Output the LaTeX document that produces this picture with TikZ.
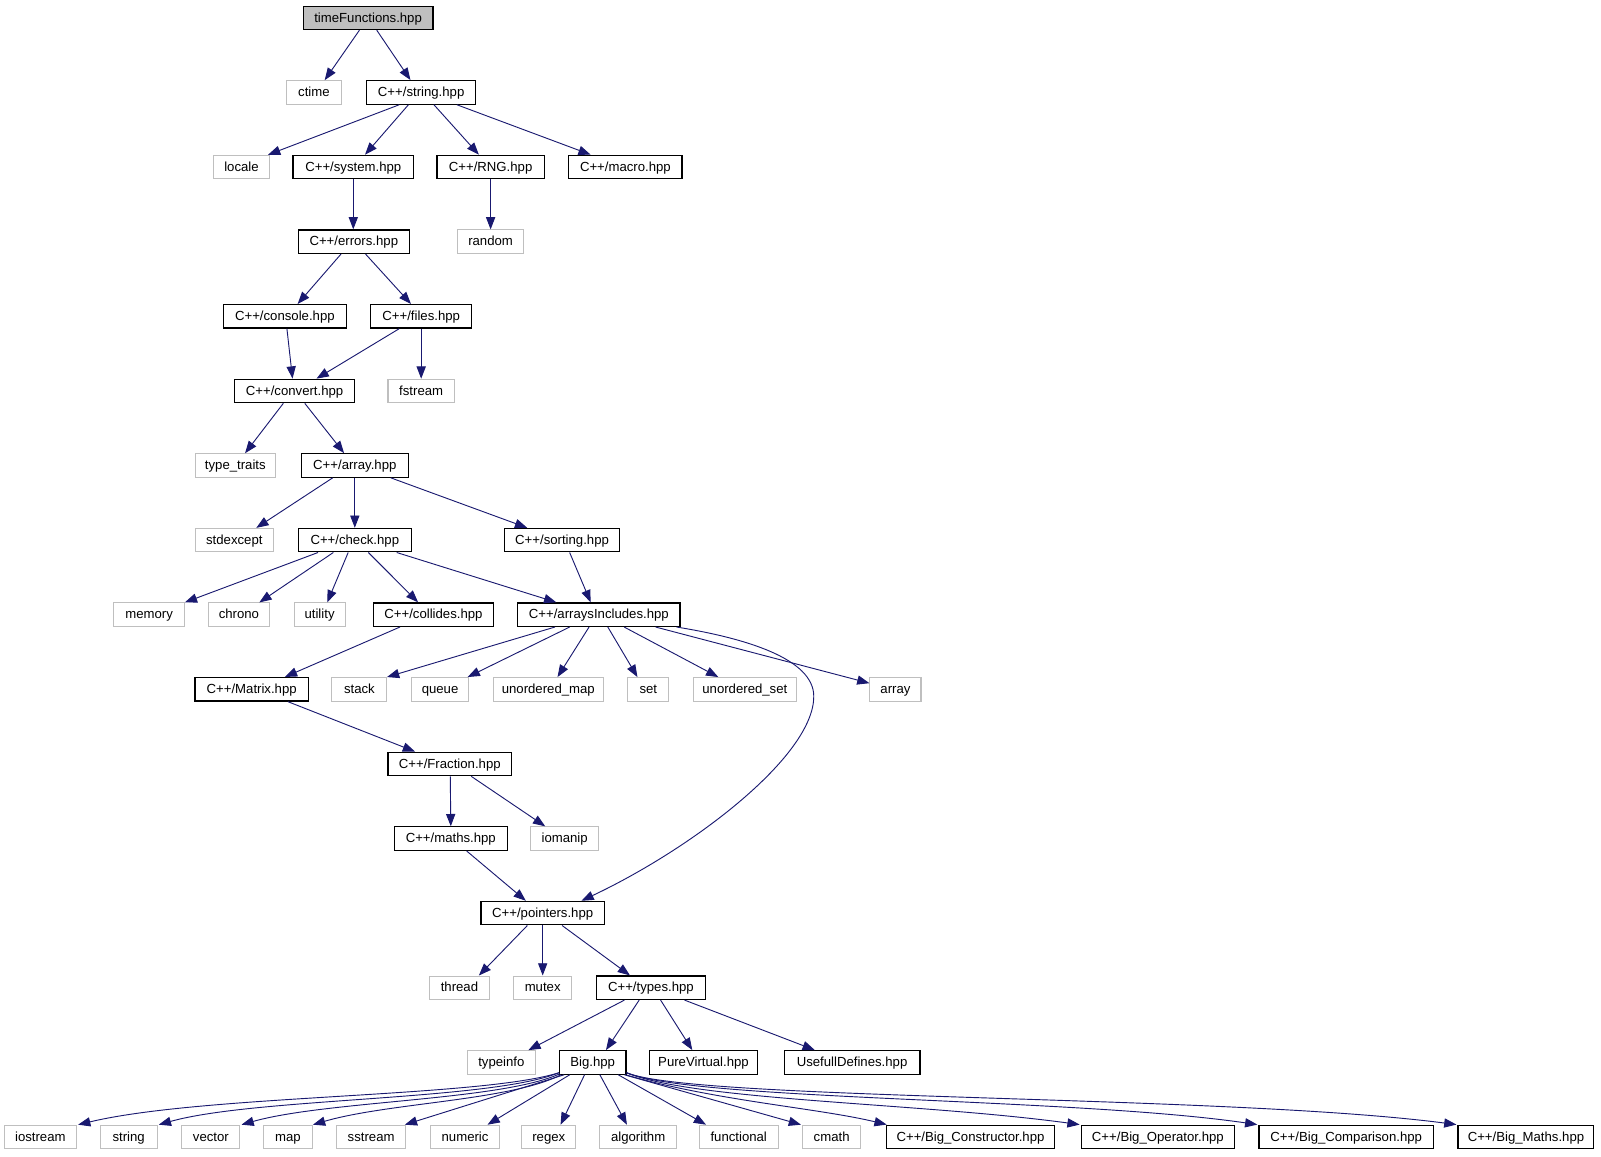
\documentclass[tikz,border=0pt]{standalone}
\usepackage{fontspec}
\setmainfont{Liberation Sans}
\usetikzlibrary{arrows.meta}
\definecolor{edgec}{HTML}{191970}
\definecolor{sysgray}{HTML}{BFBFBF}
\definecolor{rootfill}{HTML}{BFBFBF}
\newcommand\myedge[4]{\draw[edge] ([xshift=#2pt]#1.south) -- ([xshift=#4pt]#3.north);}
\begin{document}
\begin{tikzpicture}[x=1pt,y=-1pt,
  box/.style={inner sep=0pt, minimum height=23pt, text height=10.6pt, text depth=2.5pt, font=\fontsize{12.9}{14}\selectfont, fill=white},
  proj/.style={box, draw=black, line width=1.2pt},
  sys/.style={box, draw=sysgray, line width=1pt},
  root/.style={proj, fill=rootfill},
  edge/.style={draw=edgec, line width=0.9pt, -{Triangle[length=12pt,width=9pt]}}
]
\fill[white] (0,0) rectangle (1568,1133);
\useasboundingbox (0,0) rectangle (1568,1133);
% row 1
\node[root, minimum width=127pt] (tf) at (360.5,17.5) {timeFunctions.hpp};
% row 2
\node[sys, minimum width=53pt] (ctime) at (307.5,90.5) {ctime};
\node[proj, minimum width=107pt] (strh) at (412.5,90.5) {C++/string.hpp};
% row 3
\node[sys, minimum width=55pt] (locale) at (236.5,163.6) {locale};
\node[proj, minimum width=118pt] (sysh) at (346,163.6) {C++/system.hpp};
\node[proj, minimum width=105pt] (rng) at (480.5,163.6) {C++/RNG.hpp};
\node[proj, minimum width=111pt] (macro) at (612.5,163.6) {C++/macro.hpp};
% row 4
\node[proj, minimum width=109pt] (errors) at (346.5,236.7) {C++/errors.hpp};
\node[sys, minimum width=65pt] (random) at (480.5,236.7) {random};
% row 5
\node[proj, minimum width=120pt] (console) at (279,309.8) {C++/console.hpp};
\node[proj, minimum width=99pt] (files) at (412.5,309.8) {C++/files.hpp};
% row 6
\node[proj, minimum width=117pt] (convert) at (288.5,382.9) {C++/convert.hpp};
\node[sys, minimum width=65pt] (fstream) at (412.5,382.9) {fstream};
% row 7
\node[sys, minimum width=79pt] (tt) at (230.5,455.9) {type\_traits};
\node[proj, minimum width=105pt] (arrayh) at (347.5,455.9) {C++/array.hpp};
% row 8
\node[sys, minimum width=77pt] (stdexcept) at (229.5,529) {stdexcept};
\node[proj, minimum width=111pt] (check) at (347.5,529) {C++/check.hpp};
\node[proj, minimum width=113pt] (sorting) at (550.5,529) {C++/sorting.hpp};
% row 9
\node[sys, minimum width=70pt] (memory) at (146,602) {memory};
\node[sys, minimum width=60pt] (chrono) at (234,602) {chrono};
\node[sys, minimum width=50pt] (utility) at (313,602) {utility};
\node[proj, minimum width=117pt] (collides) at (424.5,602) {C++/collides.hpp};
\node[proj, minimum width=159pt] (ai) at (586.5,602) {C++/arraysIncludes.hpp};
% row 10
\node[proj, minimum width=111pt] (matrix) at (246.5,675.1) {C++/Matrix.hpp};
\node[sys, minimum width=54pt] (stack) at (352,675.1) {stack};
\node[sys, minimum width=56pt] (queue) at (431,675.1) {queue};
\node[sys, minimum width=108pt] (umap) at (537,675.1) {unordered\_map};
\node[sys, minimum width=40pt] (set) at (635,675.1) {set};
\node[sys, minimum width=101pt] (uset) at (729.5,675.1) {unordered\_set};
\node[sys, minimum width=50pt] (arr) at (877,675.1) {array};
% row 11
\node[proj, minimum width=121pt] (fraction) at (440.5,748.2) {C++/Fraction.hpp};
% row 12
\node[proj, minimum width=111pt] (maths) at (441.5,821.3) {C++/maths.hpp};
\node[sys, minimum width=66pt] (iomanip) at (553,821.3) {iomanip};
% row 13
\node[proj, minimum width=121pt] (ptr) at (531.5,894.3) {C++/pointers.hpp};
% row 14
\node[sys, minimum width=58pt] (thread) at (450,967.4) {thread};
\node[sys, minimum width=57pt] (mutex) at (531.5,967.4) {mutex};
\node[proj, minimum width=107pt] (types) at (637.5,967.4) {C++/types.hpp};
% row 15
\node[sys, minimum width=66pt] (typeinfo) at (491,1040.5) {typeinfo};
\node[proj, minimum width=65pt] (big) at (580.5,1040.5) {Big.hpp};
\node[proj, minimum width=106pt] (pv) at (689,1040.5) {PureVirtual.hpp};
\node[proj, minimum width=133pt] (ud) at (834.5,1040.5) {UsefullDefines.hpp};
% row 16
\node[sys, minimum width=71pt] (ios) at (39.5,1113.5) {iostream};
\node[sys, minimum width=56pt] (stdstr) at (126,1113.5) {string};
\node[sys, minimum width=57pt] (vector) at (206.5,1113.5) {vector};
\node[sys, minimum width=48pt] (map) at (282,1113.5) {map};
\node[sys, minimum width=67pt] (sstream) at (363.5,1113.5) {sstream};
\node[sys, minimum width=67pt] (numeric) at (455.5,1113.5) {numeric};
\node[sys, minimum width=53pt] (regex) at (537.5,1113.5) {regex};
\node[sys, minimum width=76pt] (algo) at (625,1113.5) {algorithm};
\node[sys, minimum width=77pt] (func) at (723.5,1113.5) {functional};
\node[sys, minimum width=57pt] (cmath) at (814.5,1113.5) {cmath};
\node[proj, minimum width=165pt] (bcons) at (950.5,1113.5) {C++/Big\_Constructor.hpp};
\node[proj, minimum width=150pt] (bop) at (1134,1113.5) {C++/Big\_Operator.hpp};
\node[proj, minimum width=171pt] (bcomp) at (1318.5,1113.5) {C++/Big\_Comparison.hpp};
\node[proj, minimum width=133pt] (bmaths) at (1494.5,1113.5) {C++/Big\_Maths.hpp};
% edges
\myedge{tf}{-8.5}{ctime}{10.5}
\myedge{tf}{8.5}{strh}{-10.5}
\myedge{strh}{-21.5}{locale}{26}
\myedge{strh}{-12.5}{sysh}{11.5}
\myedge{strh}{12.5}{rng}{-11.5}
\myedge{strh}{35}{macro}{-34}
\myedge{sysh}{0}{errors}{-0.5}
\myedge{rng}{0}{random}{0}
\myedge{errors}{-12.5}{console}{12.5}
\myedge{errors}{11.5}{files}{-10}
\myedge{console}{2}{convert}{-2}
\myedge{files}{-21.5}{convert}{21.5}
\myedge{files}{0}{fstream}{0}
\myedge{convert}{-11}{tt}{9.5}
\myedge{convert}{10}{arrayh}{-10.5}
\myedge{arrayh}{-21.7}{stdexcept}{21.5}
\myedge{arrayh}{0}{check}{0}
\myedge{arrayh}{35.3}{sorting}{-34.2}
\myedge{check}{-36}{memory}{35}
\myedge{check}{-21}{chrono}{20}
\myedge{check}{-6.5}{utility}{7.5}
\myedge{check}{13.3}{collides}{-15}
\myedge{check}{41}{ai}{-41.7}
\myedge{sorting}{7.4}{ai}{-8}
\myedge{collides}{-32.8}{matrix}{32.5}
\myedge{ai}{-43}{stack}{27}
\myedge{ai}{-28.6}{queue}{27}
\myedge{ai}{-9.6}{umap}{9}
\myedge{ai}{8.8}{set}{-10.7}
\myedge{ai}{24.8}{uset}{-26}
\draw[edge] ([xshift=55.6pt]ai.south) -- ([yshift=-6pt]arr.north west);
\draw[edge] ([xshift=-4pt]ai.south east) .. controls (730,625) and (797,645) .. (797,682)
  .. controls (797,740) and (680,830) .. ([xshift=38pt]ptr.north);
\myedge{matrix}{35.5}{fraction}{-34}
\myedge{fraction}{0.5}{maths}{0}
\myedge{fraction}{21}{iomanip}{-19}
\myedge{maths}{15.5}{ptr}{-16.5}
\myedge{ptr}{-15}{thread}{19}
\myedge{ptr}{0}{mutex}{0}
\myedge{ptr}{19}{types}{-20.5}
\myedge{types}{-26}{typeinfo}{26.5}
\myedge{types}{-11.5}{big}{13}
\myedge{types}{9.5}{pv}{-11}
\myedge{types}{33}{ud}{-36.5}
% Big fan-out
\draw[edge] ([yshift=2pt]big.south west) .. controls (470,1075) and (200,1072) .. ([xshift=1pt]ios.north east);
\draw[edge] ([yshift=2pt]big.south west) .. controls (480,1078) and (250,1075) .. ([xshift=1pt]stdstr.north east);
\draw[edge] ([xshift=1pt,yshift=1pt]big.south west) .. controls (490,1078) and (320,1078) .. ([xshift=1pt]vector.north east);
\draw[edge] ([xshift=2pt]big.south west) .. controls (500,1078) and (380,1080) .. (map.north east);
\myedge{big}{-28}{sstream}{33}
\myedge{big}{-22.5}{numeric}{22}
\myedge{big}{-8}{regex}{11.5}
\myedge{big}{7}{algo}{-11}
\myedge{big}{25}{func}{-32}
\myedge{big}{31}{cmath}{-30}
\draw[edge] ([xshift=-1pt]big.south east) .. controls (700,1078) and (800,1085) .. ([xshift=1pt]bcons.north west);
\draw[edge] ([yshift=2pt]big.south east) .. controls (680,1078) and (900,1080) .. ([xshift=-1pt]bop.north west);
\draw[edge] ([yshift=2pt]big.south east) .. controls (680,1078) and (1050,1075) .. ([xshift=-1pt]bcomp.north west);
\draw[edge] ([yshift=2pt]big.south east) .. controls (680,1078) and (1200,1072) .. ([xshift=-1pt]bmaths.north west);
\end{tikzpicture}
\end{document}
